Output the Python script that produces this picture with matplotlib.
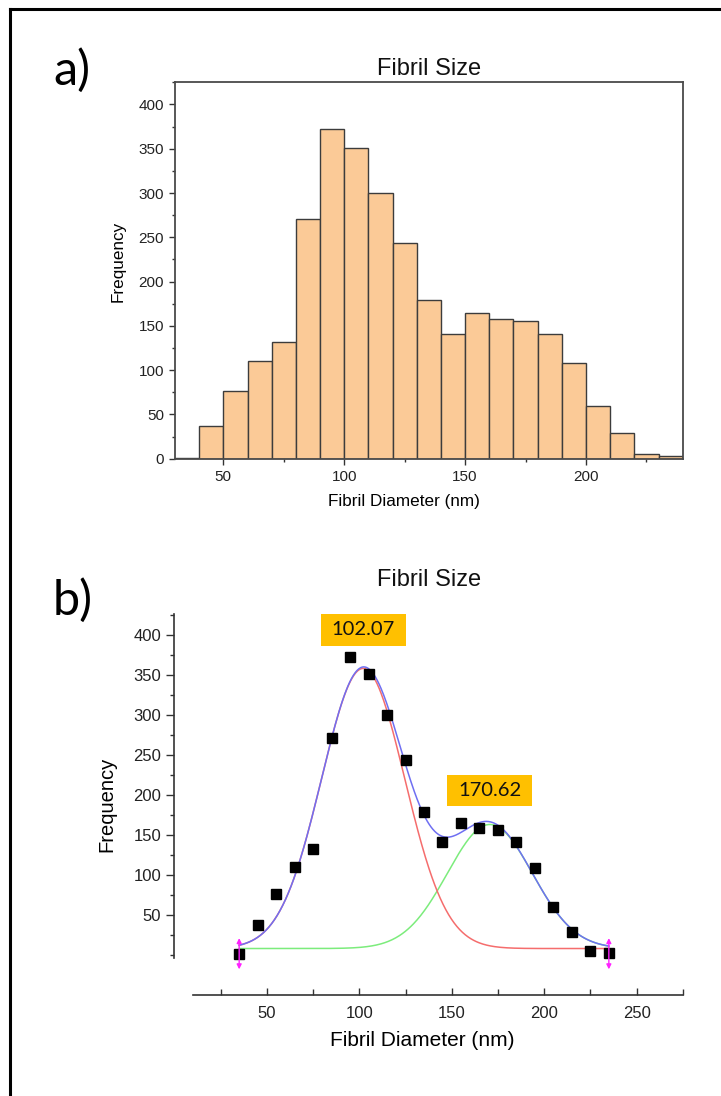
import numpy as np
import matplotlib.pyplot as plt
from matplotlib.ticker import FixedLocator
from matplotlib.patches import Rectangle
from matplotlib.lines import Line2D

plt.rcParams['font.family'] = ['Liberation Sans', 'DejaVu Sans']

# Histogram data (bin edges in nm, counts)
bin_edges = [30, 40, 50, 60, 70, 80, 90, 100, 110, 120, 130, 140, 150,
             160, 170, 180, 190, 200, 210, 220, 230, 240]
counts = [1, 37, 76, 110, 132, 271, 372, 351, 300, 243, 179, 141, 165,
          158, 156, 141, 108, 60, 29, 5, 3]
bin_centers = [35, 45, 55, 65, 75, 85, 95, 105, 115, 125, 135, 145, 155,
               165, 175, 185, 195, 205, 215, 225, 235]

# Two-gaussian fit parameters
peak_centers = [102.07, 170.62]
peak_amps = [350, 155]
peak_sigmas = [22.5, 23.0]
baseline = 8
peak_labels = ["102.07", "170.62"]
label_y = [406, 205]

fig = plt.figure(figsize=(7.21, 10.96), dpi=100)

# -------------------------------
# a) histogram
# -------------------------------
ax1 = fig.add_axes([0.2427, 0.5815, 0.7042, 0.3434])
widths = np.diff(bin_edges)
ax1.bar(bin_edges[:-1], counts, width=widths, align='edge',
        color='#FBCA97', edgecolor='#3c3c3c', linewidth=1.0)
ax1.set_xlim(30, 240)
ax1.set_ylim(0, 425)
for s in ax1.spines.values():
    s.set_color('#4a4a4a')
    s.set_linewidth(1.3)
ax1.xaxis.set_major_locator(FixedLocator([50, 100, 150, 200]))
ax1.xaxis.set_minor_locator(FixedLocator([75, 125, 175, 225]))
ax1.yaxis.set_major_locator(FixedLocator(list(range(0, 401, 50))))
ax1.yaxis.set_minor_locator(FixedLocator(list(range(25, 426, 50))))
ax1.tick_params(which='both', direction='out', colors='#333333',
                labelsize=11, labelcolor='#222222')
ax1.tick_params(which='major', length=4.5, width=1)
ax1.tick_params(which='minor', length=2.5, width=1)
ax1.set_title("Fibril Size", fontsize=17, pad=5, color='#111111')
ax1.set_xlabel("Fibril Diameter (nm)", fontsize=12.3, labelpad=7)
ax1.set_ylabel("Frequency", fontsize=12.3, labelpad=9)
ax1.xaxis.label.set_x(0.451)
ax1.yaxis.label.set_y(0.523)

# -------------------------------
# b) gaussian fit
# -------------------------------
ax2 = fig.add_axes([0.242, 0.0922, 0.705, 0.3476])
xf = np.linspace(bin_centers[0], bin_centers[-1], 400)
g1 = peak_amps[0] * np.exp(-(xf - peak_centers[0]) ** 2 / (2 * peak_sigmas[0] ** 2))
g2 = peak_amps[1] * np.exp(-(xf - peak_centers[1]) ** 2 / (2 * peak_sigmas[1] ** 2))
ax2.plot(xf, baseline + g2, color='#7cec7c', lw=1.1, zorder=2)
ax2.plot(xf, baseline + g1, color='#f56d6d', lw=1.1, zorder=2)
ax2.plot(xf, baseline + g1 + g2, color='#6f6ff2', lw=1.1, zorder=3)
ax2.plot(bin_centers, counts, 's', color='black', markersize=6.5, zorder=5)

# reader arrows at the ends
for xe in [bin_centers[0], bin_centers[-1]]:
    ax2.annotate("", xy=(xe, -18), xytext=(xe, 21),
                 arrowprops=dict(arrowstyle='<|-|>', color='#ff22ff',
                                 lw=1.0, mutation_scale=7,
                                 shrinkA=0, shrinkB=0), zorder=6)

# peak labels
for xc, yc, txt in zip(peak_centers, label_y, peak_labels):
    ax2.add_patch(Rectangle((xc - 23, yc - 19.5), 46, 39,
                            facecolor='#FFC000', edgecolor='none', zorder=4))
    ax2.text(xc, yc, txt, ha='center', va='center', fontsize=14.5,
             family=['Lato', 'DejaVu Sans'], color='#111111', zorder=7)

ax2.set_xlim(0, 275)
ax2.set_ylim(-50, 426)
ax2.spines['top'].set_visible(False)
ax2.spines['right'].set_visible(False)
ax2.spines['left'].set_bounds(-4, 426)
ax2.spines['bottom'].set_bounds(10, 275)
for s in ax2.spines.values():
    s.set_color('#333333')
    s.set_linewidth(1.2)
ax2.xaxis.set_major_locator(FixedLocator([50, 100, 150, 200, 250]))
ax2.xaxis.set_minor_locator(FixedLocator([25, 75, 125, 175, 225, 275]))
ax2.yaxis.set_major_locator(FixedLocator(list(range(50, 401, 50))))
ax2.yaxis.set_minor_locator(FixedLocator([0, 25, 75, 125, 175, 225, 275, 325, 375, 425]))
ax2.tick_params(axis='x', which='both', direction='in', colors='#333333',
                labelsize=12, labelcolor='#222222', pad=8)
ax2.tick_params(axis='x', which='major', length=5, width=1)
ax2.tick_params(axis='x', which='minor', length=4, width=1)
ax2.tick_params(axis='y', which='both', direction='out', colors='#333333',
                labelsize=12, labelcolor='#222222')
ax2.tick_params(axis='y', which='major', length=6, width=1)
ax2.tick_params(axis='y', which='minor', length=3, width=1)
ax2.set_title("Fibril Size", fontsize=17, pad=20, color='#111111')
ax2.set_xlabel("Fibril Diameter (nm)", fontsize=15, labelpad=7)
ax2.set_ylabel("Frequency", fontsize=14.5, labelpad=12)
ax2.xaxis.label.set_x(0.487)

# panel letters
fig.text(72 / 721, 1 - 70 / 1096, "a)", fontsize=35, ha='center', va='center',
         family=['Lato', 'DejaVu Sans'])
fig.text(73 / 721, 1 - 600 / 1096, "b)", fontsize=35, ha='center', va='center',
         family=['Lato', 'DejaVu Sans'])

# outer frame (left and top edges)
fig.add_artist(Line2D([10 / 721, 10 / 721], [0, 1 - 9 / 1096],
                      transform=fig.transFigure, color='black', lw=2.2))
fig.add_artist(Line2D([10 / 721, 1], [1 - 9 / 1096, 1 - 9 / 1096],
                      transform=fig.transFigure, color='black', lw=2.2))

fig.savefig("out.png", dpi=100)
